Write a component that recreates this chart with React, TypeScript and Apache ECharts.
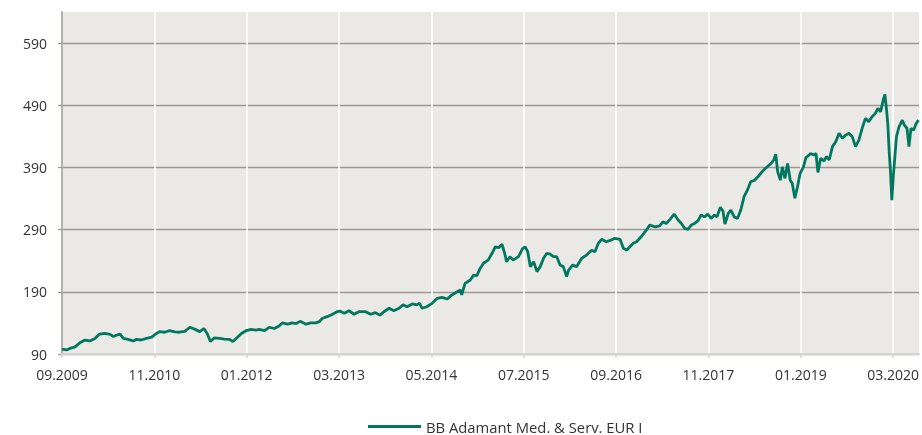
import React, { useEffect, useRef } from "react";
import * as echarts from "echarts";

const seriesName = "BB Adamant Med. & Serv. EUR I";

// months elapsed since 01.09.2009
const months = [
  0, 0.7, 1.2, 2.0, 2.7, 3.5, 4.2, 5.0, 5.7, 6.5, 7.3, 7.8, 8.3, 8.8, 9.3, 10.0, 10.8, 11.3, 12.0, 12.8,
  13.6, 14.3, 14.8, 15.6, 16.3, 17.1, 17.8, 18.6, 19.4, 20.1, 20.9, 21.5, 22.0, 22.5, 23.1, 23.9, 24.6, 25.4, 25.9, 26.4,
  27.2, 27.9, 28.7, 29.4, 29.9, 30.7, 31.4, 32.2, 32.9, 33.4, 34.2, 34.9, 35.5, 36.1, 37.0, 37.7, 38.5, 39.0, 39.5, 40.2,
  41.0, 41.7, 42.1, 42.8, 43.5, 44.3, 45.0, 46.0, 46.8, 47.5, 48.2, 48.8, 49.6, 50.3, 51.1, 51.7, 52.3, 53.1, 53.8, 54.2,
  54.6, 55.3, 56.1, 56.9, 57.6, 58.4, 59.1, 59.9, 60.4, 60.6, 61.1, 61.9, 62.4, 62.9, 63.4, 63.9, 64.6, 65.2, 65.7, 66.2,
  66.7, 67.1, 67.4, 67.9, 68.4, 69.2, 69.8, 70.2, 70.6, 71.0, 71.5, 72.0, 72.5, 73.0, 73.5, 74.0, 74.5, 75.0, 75.5, 76.0,
  76.5, 76.8, 77.4, 78.0, 78.8, 79.5, 80.3, 80.8, 81.3, 81.8, 82.5, 83.3, 83.8, 84.6, 85.1, 85.6, 86.1, 86.6, 87.1, 87.8,
  88.6, 89.1, 89.9, 90.6, 91.1, 91.6, 92.1, 92.8, 93.4, 93.9, 94.4, 94.9, 95.4, 95.9, 96.4, 96.9, 97.4, 97.9, 98.4, 98.9,
  99.3, 99.8, 100.2, 100.5, 101.0, 101.4, 101.9, 102.4, 102.9, 103.4, 103.9, 104.4, 105.0, 105.5, 106.0, 106.5, 107.0, 107.5, 107.9, 108.2,
  108.5, 108.9, 109.2, 109.6, 110.0, 110.4, 110.7, 111.1, 111.5, 111.9, 112.4, 112.8, 113.0, 113.5, 114.0, 114.3, 114.6, 115.0, 115.5, 115.9,
  116.3, 116.8, 117.3, 117.8, 118.3, 118.8, 119.3, 119.8, 120.3, 120.8, 121.3, 121.8, 122.3, 122.8, 123.3, 123.7, 124.1, 124.5, 124.75, 125.0,
  125.2, 125.4, 125.6, 125.8, 126.0, 126.2, 126.5, 126.9, 127.4, 127.7, 128.1, 128.4, 128.7, 129.1, 129.5, 129.85,
];

const values = [
  98, 96.5, 99, 101.5, 108, 112.5, 111, 115, 122, 123, 121.5, 118, 120.5, 122, 115, 113.5, 111, 113.5, 112.5, 115,
  117, 123, 126, 125, 127.5, 125.5, 125, 126.5, 133, 130, 126, 131, 123, 110, 116, 115, 114, 113.5, 110, 115,
  123, 127.5, 129.5, 128.5, 129.5, 127.5, 133, 131, 135, 140, 138, 140, 139, 142.5, 138, 140, 140, 142, 147.5, 150,
  154, 158, 159, 155.5, 159.5, 154, 158, 158, 154, 156.5, 152.5, 158, 163.5, 159.5, 163.5, 169, 166, 170.5, 169, 171.5,
  163.5, 166, 171.5, 179.5, 181, 178.5, 185, 190, 193, 185, 203.5, 209, 217, 216, 228, 236, 241, 252, 262.5, 261,
  266.5, 252, 238.5, 246.5, 241, 246.5, 259, 262.5, 254.5, 230.5, 238.5, 222.5, 230.5, 244, 252, 250.5, 246.5, 246.5, 233, 230.5,
  214.5, 225, 233, 230.5, 244, 249, 257, 254.5, 268, 274.5, 270.5, 273.5, 276, 274.5, 260, 257, 262.5, 268, 270.5, 278.5,
  289.5, 297.5, 294.5, 296, 302.5, 300, 305.5, 315, 305.5, 300, 292, 290.5, 297.5, 300, 304, 313.5, 310.5, 315, 308, 313.5,
  310.5, 326, 320, 299, 316, 321.5, 310.5, 308, 321.5, 343, 353.5, 367, 369.5, 375, 381.5, 387, 392, 396.5, 402, 411.5,
  383, 369.5, 391, 372.5, 396.5, 369.5, 364.5, 340.5, 359, 380.5, 391, 406.5, 407.5, 412.5, 410, 412.5, 382, 404.5, 400.5, 407.5,
  402, 423.5, 431.5, 445, 437, 442, 445, 439.5, 423.5, 434, 453, 469, 463.5, 471.5, 477, 485, 479.5, 498.5, 507.5, 482.5,
  458, 415, 383, 337.5, 372.5, 399, 439.5, 455.5, 466, 458, 453, 423.5, 453, 450, 461, 466,
];

// x tick positions (months since 09.2009) -> labels 09.2009, 11.2010, ...
const xTickMonths = [0, 14, 28, 42, 56, 70, 84, 98, 112, 126];
const yTicks = [90, 190, 290, 390, 490, 590];

const FONT = "'Open Sans', 'Noto Sans', sans-serif";
const LINE_COLOR = "#00785f";

function monthLabel(m: number): string {
  const t = 8 + Math.round(m);
  const mm = (t % 12) + 1;
  const yy = 2009 + Math.floor(t / 12);
  return String(mm).padStart(2, "0") + "." + yy;
}

export default function App() {
  const ref = useRef<HTMLDivElement>(null);
  useEffect(() => {
    if (!ref.current) return;
    const chart = echarts.init(ref.current, undefined, { renderer: "svg" });
    const data = months.map((m, i) => [m, values[i]]);
    chart.setOption({
      animation: false,
      textStyle: { fontFamily: FONT },
      grid: {
        left: 62,
        right: 0,
        top: 12,
        bottom: 81,
        show: true,
        backgroundColor: "#ebe9e6",
        borderWidth: 0,
      },
      legend: {
        left: 368,
        top: 419,
        padding: 0,
        itemWidth: 53,
        itemHeight: 3,
        icon: "rect",
        textStyle: { fontSize: 14.8, color: "#333333", fontFamily: FONT },
        data: [seriesName],
      },
      xAxis: {
        type: "value",
        min: 0,
        max: 129.93,
        z: 1,
        axisLine: { show: true, lineStyle: { color: "#d6d4d1", width: 2 } },
        axisTick: {
          show: true,
          customValues: xTickMonths,
          length: 4,
          lineStyle: { color: "#d6d4d1", width: 1.5 },
        },
        axisLabel: {
          customValues: xTickMonths,
          formatter: (v: number) => monthLabel(v),
          color: "#333333",
          fontSize: 14,
          margin: 13,
          fontFamily: FONT,
        },
        splitLine: {
          show: true,
          showMinLine: false,
          lineStyle: { color: "#ffffff", width: 1.5 },
        },
      },
      yAxis: {
        type: "value",
        min: 90,
        max: 640,
        z: 0,
        axisLine: { show: true, lineStyle: { color: "#b3b1ae", width: 2 } },
        axisTick: {
          show: true,
          customValues: yTicks,
          length: 4,
          lineStyle: { color: "#9b9895", width: 1.3 },
        },
        axisLabel: {
          customValues: yTicks,
          color: "#333333",
          fontSize: 14,
          margin: 15,
          fontFamily: FONT,
        },
        splitLine: {
          show: true,
          lineStyle: { color: "#9b9895", width: 1.3 },
        },
      },
      series: [
        {
          name: seriesName,
          type: "line",
          data,
          showSymbol: false,
          z: 3,
          lineStyle: { color: LINE_COLOR, width: 2.8 },
          itemStyle: { color: LINE_COLOR },
        },
      ],
    });
    return () => chart.dispose();
  }, []);
  return (
    <div
      ref={ref}
      style={{ position: "fixed", left: 0, top: 0, width: 922, height: 435 }}
    />
  );
}
